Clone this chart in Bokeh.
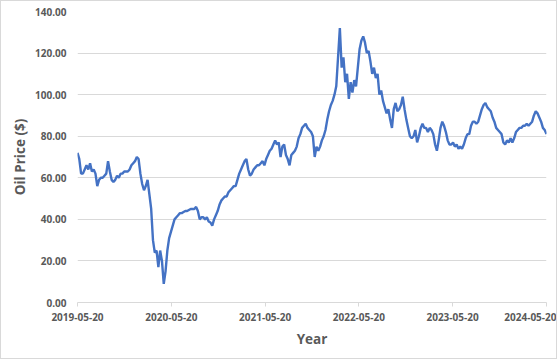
import pandas as pd
from bokeh.plotting import figure
from bokeh.models import (Range1d, FixedTicker, NumeralTickFormatter,
                          CustomJSTickFormatter, ColumnDataSource)
from bokeh.embed import file_html
from bokeh.resources import INLINE

# ---- data (weekly readings from the chart) ----
start_date = "2019-05-20"
oil_price = [
    # 2019-05 .. 2020-05
    72, 69, 62, 62, 64, 66, 64, 67, 63, 64,
    62, 56, 59, 60, 60, 61, 62, 68, 63, 59,
    58, 59, 61, 60, 62, 62, 63, 63, 63, 64,
    66, 67, 68, 70, 69, 62, 57, 54, 56, 59,
    52, 45, 30, 24, 25, 17, 25, 20, 9, 15,
    25, 31, 34,
    # 2020-05 .. 2021-05
    37, 40, 41, 42, 43, 43, 43.5, 44, 44, 44.5,
    45, 45, 45, 46, 44, 40, 41, 41, 40, 41,
    39, 38.5, 37, 40, 42, 44, 47, 49, 50, 51,
    51, 53, 54, 55, 56, 56, 59, 62, 64, 66,
    68, 69, 64, 61, 62, 64, 65, 66, 66, 67,
    68, 66,
    # 2021-05 .. 2022-05
    69, 71, 73, 74, 76, 78, 76, 77, 70, 75,
    76, 71, 69, 66, 71, 72, 73, 75, 79, 81,
    84, 85, 86, 84, 83, 82, 80, 70, 75, 73,
    75, 78, 80, 83, 88, 92, 95, 97, 100, 104,
    118, 132, 113, 118, 106, 110, 98, 106, 101, 107,
    104, 113,
    # 2022-05 .. 2023-05
    122, 126, 128, 125, 120, 121, 116, 110, 113, 108,
    110, 100, 102, 97, 94, 91, 93, 88, 84, 93,
    96, 92, 93, 95, 99, 93, 88, 84, 80, 79,
    80, 83, 77, 80, 84, 86, 84, 84, 82, 84,
    83, 81, 76, 73, 78, 84, 87, 85, 82, 78,
    76, 76,
    # 2023-05 .. 2024-05
    77, 75, 76, 74, 75, 74, 76, 79, 81, 81,
    85, 87, 87, 86, 87, 90, 93, 95, 96, 94,
    93, 92, 89, 87, 84, 83, 82, 81, 77, 76,
    78, 77, 79, 77, 79, 82, 83, 84, 84, 85,
    85, 86, 85, 86, 87, 90, 92, 91, 89, 87,
    84, 83, 81,
]
x_tick_labels = ["2019-05-20", "2020-05-20", "2021-05-20",
                 "2022-05-20", "2023-05-20", "2024-05-20"]
y_ticks = [0, 20, 40, 60, 80, 100, 120, 140]

dates = pd.date_range(start_date, periods=len(oil_price), freq="7D")
src = ColumnDataSource(dict(date=dates, price=oil_price))
x_tick_ms = [pd.Timestamp(d).value // 10**6 for d in x_tick_labels]

TEXT = "#595959"
GRID = "#d9d9d9"
FONT = "Open Sans"
TICK_SIZE = "10px"

p = figure(width=557, height=359, x_axis_type="datetime",
           x_range=Range1d(pd.Timestamp(x_tick_labels[0]), pd.Timestamp(x_tick_labels[-1])),
           y_range=Range1d(y_ticks[0], y_ticks[-1]),
           output_backend="svg", toolbar_location=None,
           min_border_left=76, min_border_right=12,
           min_border_top=10, min_border_bottom=58)
p.styles = {"border": "1px solid #d9d9d9"}
p.background_fill_color = "white"
p.border_fill_color = "white"
p.outline_line_color = None

p.line("date", "price", source=src, line_color="#4472C4", line_width=2.4)

# grid
p.xgrid.grid_line_color = None
p.ygrid.grid_line_color = GRID
p.ygrid.ticker = FixedTicker(ticks=y_ticks)

# y axis
ya = p.yaxis[0]
ya.ticker = FixedTicker(ticks=y_ticks)
ya.formatter = NumeralTickFormatter(format="0.00")
ya.axis_line_color = None
ya.major_tick_line_color = None
ya.major_tick_in = 0
ya.major_tick_out = 0
ya.minor_tick_line_color = None
ya.minor_tick_in = 0
ya.minor_tick_out = 0
ya.major_label_standoff = 11
ya.major_label_text_font = FONT
ya.major_label_text_font_style = "bold"
ya.major_label_text_font_size = TICK_SIZE
ya.major_label_text_color = TEXT
ya.axis_label = "Oil Price ($)"
ya.axis_label_text_font = FONT
ya.axis_label_text_font_style = "bold"
ya.axis_label_text_font_size = "13.5px"
ya.axis_label_text_color = TEXT
ya.axis_label_standoff = 3

# x axis
xa = p.xaxis[0]
xa.ticker = FixedTicker(ticks=x_tick_ms)
xa.formatter = CustomJSTickFormatter(
    code="return new Date(tick).toISOString().slice(0, 10);")
xa.axis_line_color = GRID
xa.major_tick_line_color = GRID
xa.major_tick_in = 0
xa.major_tick_out = 4
xa.minor_tick_line_color = None
xa.minor_tick_in = 0
xa.minor_tick_out = 0
xa.major_label_standoff = 6
xa.major_label_text_font = FONT
xa.major_label_text_font_style = "bold"
xa.major_label_text_font_size = TICK_SIZE
xa.major_label_text_color = TEXT
xa.axis_label = "Year"
xa.axis_label_text_font = FONT
xa.axis_label_text_font_style = "bold"
xa.axis_label_text_font_size = "13.5px"
xa.axis_label_text_color = TEXT
xa.axis_label_standoff = 6

open("out.html", "w").write(file_html(p, INLINE))
